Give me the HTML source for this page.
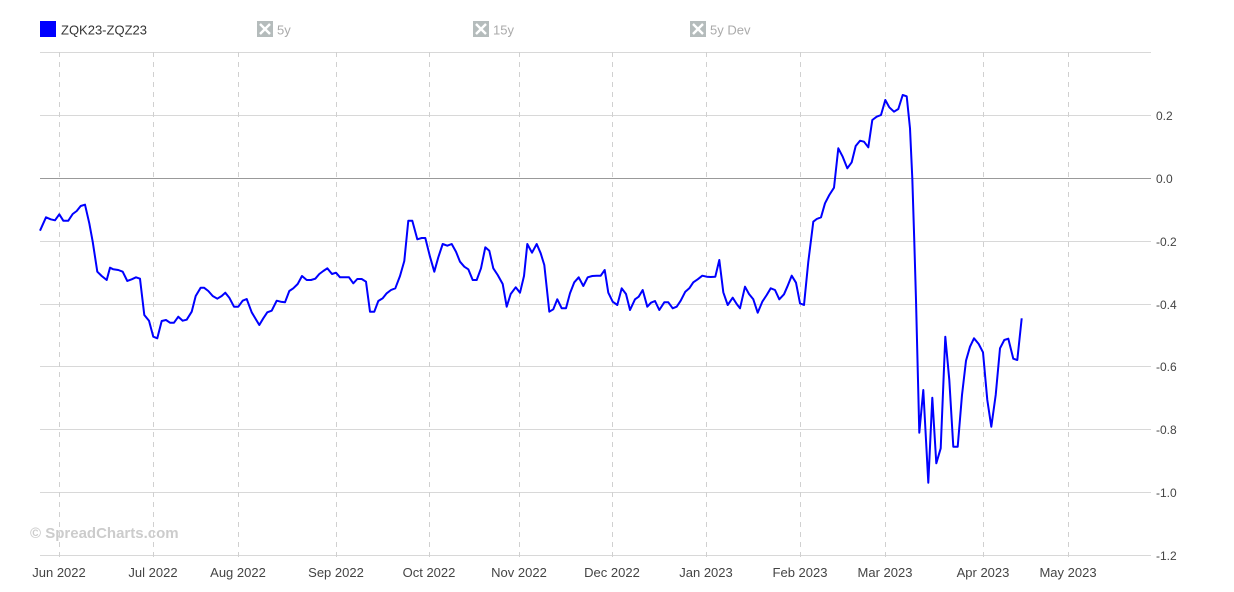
<!DOCTYPE html>
<html><head><meta charset="utf-8"><style>
html,body{margin:0;padding:0;background:#fff;width:1234px;height:592px;overflow:hidden}
svg{display:block}
text{font-family:"Liberation Sans",sans-serif}
</style></head><body>
<svg width="1234" height="592" viewBox="0 0 1234 592" xmlns="http://www.w3.org/2000/svg">
<!-- legend -->
<rect x="40" y="21" width="16" height="16" fill="#0000ff"/>
<text x="61" y="34.5" font-size="13" fill="#333">ZQK23-ZQZ23</text>
<g fill="#b5bcbc">
<rect x="257" y="21" width="16" height="16"/>
<rect x="473" y="21" width="16" height="16"/>
<rect x="690" y="21" width="16" height="16"/>
</g>
<g stroke="#fff" stroke-width="2.4">
<path d="M260 24 L270 34 M270 24 L260 34"/>
<path d="M476 24 L486 34 M486 24 L476 34"/>
<path d="M693 24 L703 34 M703 24 L693 34"/>
</g>
<text x="277" y="34.5" font-size="13" fill="#aaa">5y</text>
<text x="493" y="34.5" font-size="13" fill="#aaa">15y</text>
<text x="710" y="34.5" font-size="13" fill="#aaa">5y Dev</text>

<!-- horizontal grid -->
<g stroke="#d8d8d8" stroke-width="1">
<line x1="40" x2="1151" y1="52.5" y2="52.5"/>
<line x1="40" x2="1151" y1="115.5" y2="115.5"/>
<line x1="40" x2="1151" y1="241.5" y2="241.5"/>
<line x1="40" x2="1151" y1="304.5" y2="304.5"/>
<line x1="40" x2="1151" y1="366.5" y2="366.5"/>
<line x1="40" x2="1151" y1="429.5" y2="429.5"/>
<line x1="40" x2="1151" y1="492.5" y2="492.5"/>
<line x1="40" x2="1151" y1="555.5" y2="555.5"/>
</g>
<line x1="40" x2="1151" y1="178.5" y2="178.5" stroke="#999" stroke-width="1"/>
<!-- vertical dashed grid -->
<g stroke="#d0d0d0" stroke-width="1" stroke-dasharray="5,5">
<line x1="59.5" x2="59.5" y1="52" y2="560"/>
<line x1="153.5" x2="153.5" y1="52" y2="560"/>
<line x1="238.5" x2="238.5" y1="52" y2="560"/>
<line x1="336.5" x2="336.5" y1="52" y2="560"/>
<line x1="429.5" x2="429.5" y1="52" y2="560"/>
<line x1="519.5" x2="519.5" y1="52" y2="560"/>
<line x1="612.5" x2="612.5" y1="52" y2="560"/>
<line x1="706.5" x2="706.5" y1="52" y2="560"/>
<line x1="800.5" x2="800.5" y1="52" y2="560"/>
<line x1="885.5" x2="885.5" y1="52" y2="560"/>
<line x1="983.5" x2="983.5" y1="52" y2="560"/>
<line x1="1068.5" x2="1068.5" y1="52" y2="560"/>
</g>
<!-- y labels -->
<g font-size="12" fill="#444">
<text x="1156" y="120">0.2</text>
<text x="1156" y="183">0.0</text>
<text x="1156" y="246">-0.2</text>
<text x="1156" y="309">-0.4</text>
<text x="1156" y="371">-0.6</text>
<text x="1156" y="434">-0.8</text>
<text x="1156" y="497">-1.0</text>
<text x="1156" y="560">-1.2</text>
</g>
<!-- x labels -->
<g font-size="13" fill="#444" text-anchor="middle">
<text x="59" y="577">Jun 2022</text>
<text x="153" y="577">Jul 2022</text>
<text x="238" y="577">Aug 2022</text>
<text x="336" y="577">Sep 2022</text>
<text x="429" y="577">Oct 2022</text>
<text x="519" y="577">Nov 2022</text>
<text x="612" y="577">Dec 2022</text>
<text x="706" y="577">Jan 2023</text>
<text x="800" y="577">Feb 2023</text>
<text x="885" y="577">Mar 2023</text>
<text x="983" y="577">Apr 2023</text>
<text x="1068" y="577">May 2023</text>
</g>
<text x="30" y="538" font-size="15" font-weight="bold" fill="#cccccc">© SpreadCharts.com</text>
<!-- series -->
<polyline fill="none" stroke="#0000ff" stroke-width="2" stroke-linejoin="round" points="
40,230.7 46,217.3 50.7,219.3 55,220.3 59.3,214.3 63.3,220.7 68.3,220.7 72.7,214 76.7,211 80.7,206 85,204.7 89.3,223.3 92.7,241.7 97.3,271.7 101.7,276 106.7,280 110,267.7 113.3,269.3 118.3,270 122.7,271.7 127.3,281 131.7,279.3 136,277.3 140,278.7 144.3,315 149,320.7 153.3,336.7 157.3,338.3 161.7,321 166,320 170,322.7 174,322.7 178.3,316.7 182.7,320.7 186.7,319.7 191.7,311.7 195.7,296 200.7,287.7 204,287.7 208.3,291 212.7,296 217.3,298.7 221.7,296 225.3,292.7 229.3,297.7 234,306.7 238.3,306.7 242.7,300.7 246.7,299 251.7,312.3 259.3,325 263.3,318.3 267.3,312.3 271.7,310.7 276.7,300.7 280.7,301.7 285,302.3 289.3,291 293.3,288.3 297.7,284 302,276 306.7,280 311,280 315.3,278.7 319.3,274 323.3,271 327.3,268.3 332,274 336,272.7 340,277.3 344.3,277.3 349,277.3 353.3,283.3 357.3,279 361.7,279 366,281.7 370,311.7 374.3,311.7 378.3,301 382.7,298.3 386.7,293.3 391,290 395.3,288.3 400,276 404.3,261 408.3,220.7 412.3,220.7 417.3,239.3 421.7,238 425.3,238 430,256.7 434.3,271.7 438.3,257.3 442.7,244 447.3,245.7 451.7,244 456,251.7 460,261.7 464.3,266.7 468.3,269.3 472.7,280 476.7,280 481,268.3 485.3,247.3 489.3,250.7 493.3,268.3 497.7,275 502.7,284 506.7,306.7 510.7,294 515.7,287.3 520,292.7 524,276 527.3,244 532,252.7 536.7,244 540.7,253.3 544.3,265 549.3,311.7 553.3,309.3 557.3,299.3 561.7,308.3 566,308.3 570,293.3 574.3,282.3 578.7,277.3 583.3,286 587.7,277.3 592.3,276 596.7,275.7 600.7,275.7 604.7,270 608.3,292.7 612.7,301.7 617.3,305 621.7,288.3 626,294 630,310 635,299.3 638.7,296.7 642.7,290 647.3,306.7 651,302.7 655,301 659.3,310 664.3,302.3 668.3,302.3 672.7,308.3 676.7,306.7 680.7,300.7 685.3,291.7 689.3,288.3 693.3,282.3 697.7,279.3 702.3,275.7 706.7,276.7 710.7,277 715.3,276.7 719.3,260 723.3,292.3 727.7,305 732.7,297.7 736.7,304 740,308.3 745,286.7 749,294 753.3,299.3 757.7,312.7 762.3,301.7 766.7,295 770.7,288.3 775,290 779.3,299.3 784,294.3 787.3,286.7 791.7,275.7 796,282.7 800,303.3 804,305 808.3,261.7 813.3,221.7 816.7,219 821,217.3 825,203.3 829.3,195 834,187.7 838.3,148.3 842.7,156.7 847.3,168.3 851.7,162.3 855.7,146 860,140.7 864,141.7 868.3,147.3 872.3,120 876.7,116.7 881,115 885.3,100 889.3,107.3 894,111.7 898.3,109 902.7,95 906.7,96.3 910,128.3 912.3,178.3 914.3,241.7 916,300 919.3,432.7 923.3,390 928.3,482.7 932.3,397.7 936.3,463.3 940.7,448.3 945.3,336.7 949.3,380 953.3,446.7 957.7,446.7 962,395 966,360.7 970,346.7 974,338.3 978.7,344 983,352.3 987.3,400 991.3,426.7 995.7,395 1000,348.3 1004.3,340 1008.3,338.7 1013.3,358.7 1017.3,360 1021.7,318.3"/>
</svg>
</body></html>
